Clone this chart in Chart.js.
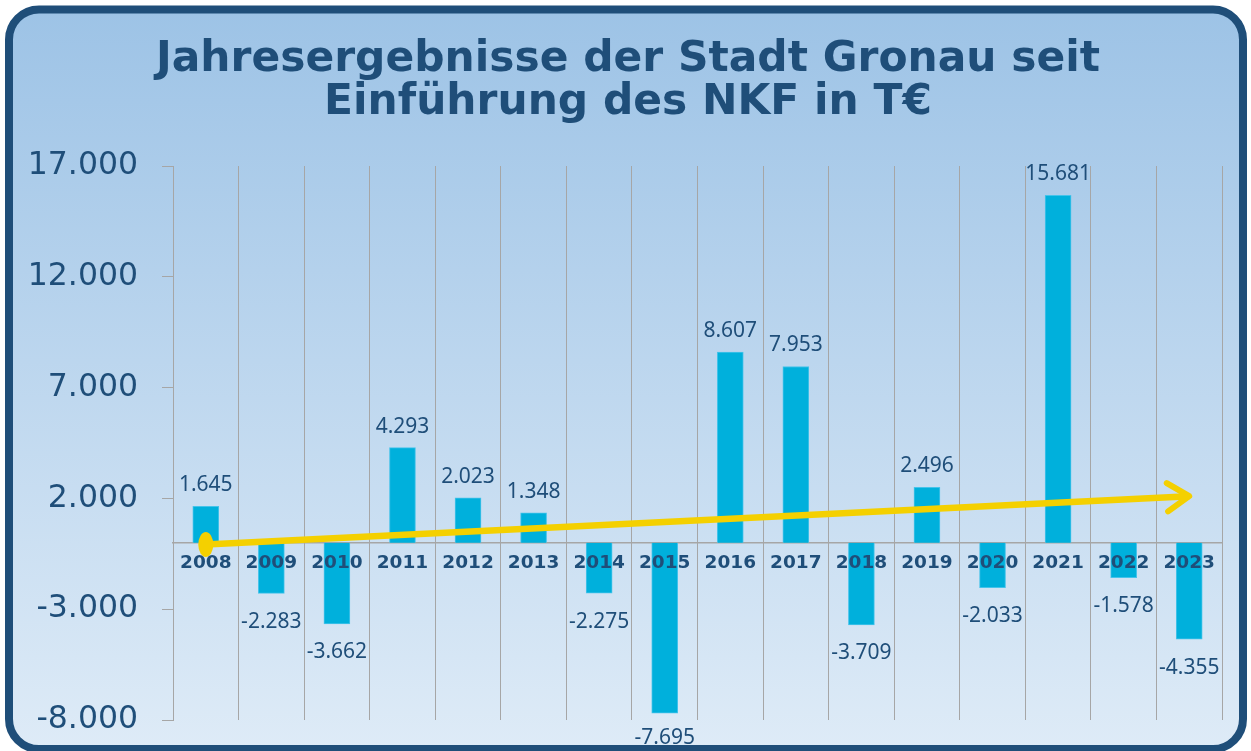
<!DOCTYPE html>
<html><head><meta charset="utf-8">
<script src="https://cdn.jsdelivr.net/npm/chart.js@4"></script>
<style>html,body{margin:0;padding:0;background:#fff;overflow:hidden}canvas{display:block}</style>
</head><body>
<canvas id="c" width="1251" height="751"></canvas>
<script>
const titleLines = ['Jahresergebnisse der Stadt Gronau seit', 'Einführung des NKF in T€'];
const years = ['2008','2009','2010','2011','2012','2013','2014','2015','2016','2017','2018','2019','2020','2021','2022','2023'];
const results = [1645, -2283, -3662, 4293, 2023, 1348, -2275, -7695, 8607, 7953, -3709, 2496, -2033, 15681, -1578, -4355];
const trendStart = -80;
const trendEnd = 2100;
const yTicks = [-8000, -3000, 2000, 7000, 12000, 17000];

const DARK = '#1F4E79';
const GRID = '#A6A6A6';
const YELLOW = '#F4D000';

function fmt(v) {
  const s = Math.abs(v).toString().replace(/\B(?=(\d{3})+(?!\d))/g, '.');
  return (v < 0 ? '-' : '') + s;
}

const trendData = years.map((_, i) => i === 0 ? trendStart : (i === years.length - 1 ? trendEnd : null));

const frame = {
  id: 'frame',
  beforeDraw(chart) {
    const ctx = chart.ctx;
    ctx.save();
    ctx.fillStyle = '#ffffff';
    ctx.fillRect(0, 0, chart.width, chart.height);
    const g = ctx.createLinearGradient(0, 10, 0, 748);
    g.addColorStop(0, '#9DC3E6');
    g.addColorStop(1, '#DEEBF7');
    ctx.beginPath();
    ctx.roundRect(9, 9.5, 1234, 739.5, 30);
    ctx.fillStyle = g;
    ctx.fill();
    ctx.lineWidth = 8;
    ctx.strokeStyle = DARK;
    ctx.stroke();
    // title
    ctx.fillStyle = DARK;
    ctx.textAlign = 'center';
    ctx.textBaseline = 'alphabetic';
    ctx.font = 'bold 42.4px "DejaVu Sans"';
    ctx.fillText(titleLines[0], 628, 71);
    ctx.fillText(titleLines[1], 628, 114);
    ctx.restore();
  }
};

const overlay = {
  id: 'overlay',
  afterDatasetsDraw(chart) {
    const ctx = chart.ctx;
    const xs = chart.scales.x, ys = chart.scales.y;
    const zero = ys.getPixelForValue(0);
    ctx.save();
    // trend markers
    const lm = chart.getDatasetMeta(1).data;
    const p0 = lm[0], p1 = lm[lm.length - 1];
    ctx.fillStyle = YELLOW;
    ctx.beginPath();
    ctx.ellipse(p0.x, p0.y, 7.5, 12.5, 0, 0, Math.PI * 2);
    ctx.fill();
    const ang = Math.atan2(p1.y - p0.y, p1.x - p0.x);
    const L = 26, a = 33 * Math.PI / 180;
    ctx.strokeStyle = YELLOW;
    ctx.lineWidth = 6;
    ctx.lineCap = 'round';
    ctx.lineJoin = 'round';
    ctx.beginPath();
    ctx.moveTo(p1.x - L * Math.cos(ang - a), p1.y - L * Math.sin(ang - a));
    ctx.lineTo(p1.x, p1.y);
    ctx.lineTo(p1.x - L * Math.cos(ang + a), p1.y - L * Math.sin(ang + a));
    ctx.stroke();
    // category labels
    ctx.fillStyle = DARK;
    ctx.textAlign = 'center';
    ctx.textBaseline = 'alphabetic';
    ctx.font = 'bold 18.5px "DejaVu Sans"';
    years.forEach((y, i) => {
      ctx.fillText(y, xs.getPixelForValue(i), zero + 25.5);
    });
    // data labels
    ctx.font = '21px "Noto Sans"';
    const bm = chart.getDatasetMeta(0).data;
    const maxBase = chart.chartArea.bottom + 23.5;
    results.forEach((v, i) => {
      const b = bm[i];
      const y = v >= 0 ? b.y - 15 : Math.min(b.y + 34.5, maxBase);
      ctx.fillText(fmt(v), b.x, y);
    });
    ctx.restore();
  }
};

new Chart(document.getElementById('c'), {
  data: {
    labels: years,
    datasets: [
      { type: 'bar', data: results, backgroundColor: '#00B0DC', borderColor: '#45C3EA', borderWidth: 1, barThickness: 26, order: 2 },
      { type: 'line', data: trendData, spanGaps: true, borderColor: YELLOW, borderWidth: 6.5, pointRadius: 0, borderCapStyle: 'butt', order: 1, tension: 0 }
    ]
  },
  options: {
    responsive: false,
    animation: false,
    layout: { padding: { top: 166, left: 0, right: 29, bottom: 31 } },
    plugins: {
      legend: { display: false },
      tooltip: { enabled: false },
      title: { display: false }
    },
    scales: {
      x: {
        type: 'category',
        position: { y: 0 },
        offset: true,
        grid: { color: GRID, lineWidth: 1, drawTicks: false, offset: true },
        border: { display: true, color: GRID, width: 1.5 },
        ticks: { display: false }
      },
      y: {
        position: 'left',
        min: -8000,
        max: 17000,
        afterBuildTicks: s => { s.ticks = yTicks.map(v => ({ value: v })); },
        afterFit: s => { s.width = 173; s.paddingTop = 0; s.paddingBottom = 0; },
        grid: { drawOnChartArea: false, color: GRID, tickLength: 11, drawTicks: true },
        border: { display: true, color: GRID },
        ticks: { color: DARK, font: { family: 'DejaVu Sans', size: 31.5 }, padding: 24, callback: v => fmt(v) }
      }
    }
  },
  plugins: [frame, overlay]
});
</script>
</body></html>
